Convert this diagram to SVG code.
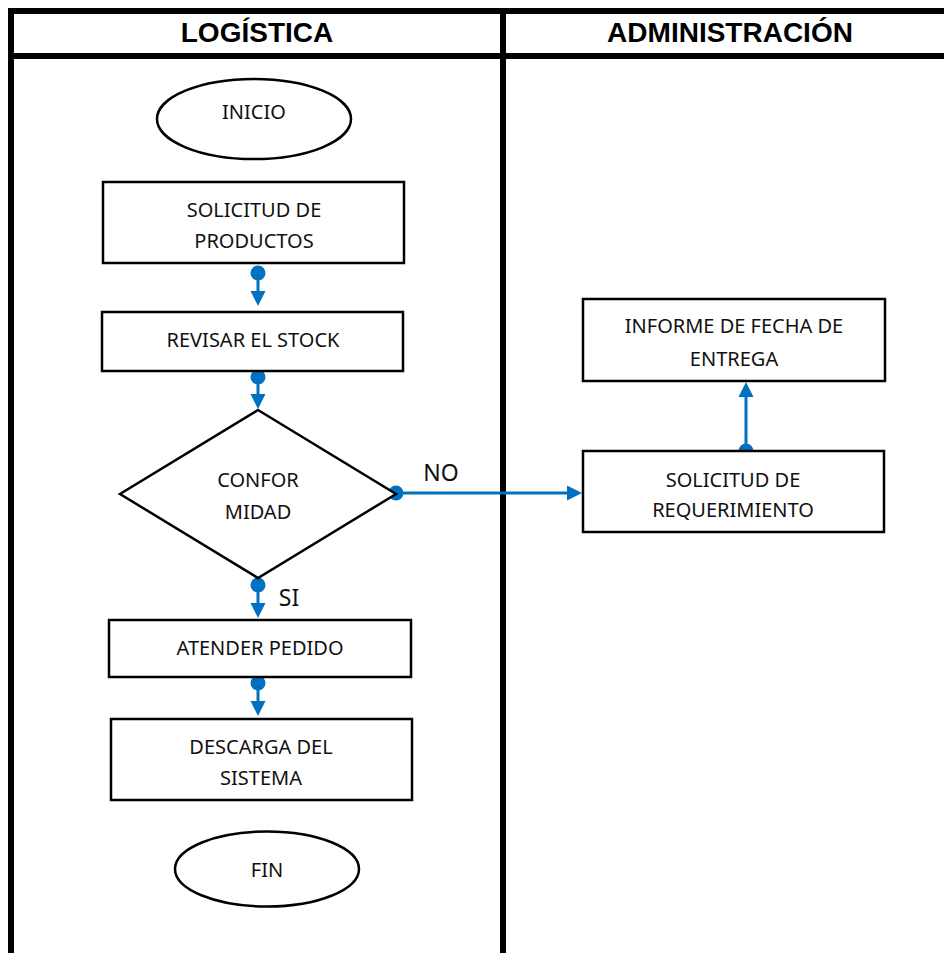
<svg xmlns="http://www.w3.org/2000/svg" width="944" height="953" viewBox="0 0 944 953">
  <style>
    .lane { stroke: #000; stroke-width: 6; fill: none; }
    .box { fill: #fff; stroke: #000; stroke-width: 2.5; }
    .lbl { font-family: "Noto Sans", "Open Sans", sans-serif; font-size: 20px; fill: #111; text-anchor: middle; }
    .tag { font-family: "Noto Sans", "Open Sans", sans-serif; font-size: 23px; fill: #111; text-anchor: middle; }
    .hdr { font-family: "Liberation Sans", Arial, sans-serif; font-size: 28px; font-weight: bold; fill: #000; text-anchor: middle; }
    .flow { stroke: #0070C0; stroke-width: 3; fill: none; }
    .dot { fill: #0070C0; }
    .head { fill: #0070C0; }
  </style>

  <rect width="944" height="953" fill="#fff"/>

  <!-- swimlane frame -->
  <g id="lanes">
    <line class="lane" x1="8" y1="11" x2="944" y2="11"/>
    <line class="lane" x1="8" y1="56" x2="944" y2="56"/>
    <line class="lane" x1="11" y1="8" x2="11" y2="953"/>
    <line class="lane" x1="503" y1="8" x2="503" y2="953"/>
    <text class="hdr" x="257" y="42">LOGÍSTICA</text>
    <text class="hdr" x="730" y="42">ADMINISTRACIÓN</text>
  </g>

  <!-- connectors -->
  <g id="connectors">
    <!-- solicitud -> revisar -->
    <line class="flow" x1="258" y1="273" x2="258" y2="293"/>
    <circle class="dot" cx="258" cy="273" r="7.5"/>
    <polygon class="head" points="250.5,291 265.5,291 258,306"/>
    <!-- revisar -> conformidad -->
    <line class="flow" x1="258" y1="377" x2="258" y2="396"/>
    <circle class="dot" cx="258" cy="377" r="7.5"/>
    <polygon class="head" points="250.5,394 265.5,394 258,409"/>
    <!-- conformidad NO -> solicitud de requerimiento -->
    <line class="flow" x1="396" y1="493" x2="569" y2="493"/>
    <circle class="dot" cx="396" cy="493" r="7.5"/>
    <polygon class="head" points="567,485.5 567,500.5 582,493"/>
    <text class="tag" x="441" y="481">NO</text>
    <!-- requerimiento -> informe -->
    <line class="flow" x1="746" y1="451" x2="746" y2="395"/>
    <circle class="dot" cx="746" cy="451" r="7.5"/>
    <polygon class="head" points="738.5,397 753.5,397 746,382"/>
    <!-- conformidad SI -> atender -->
    <line class="flow" x1="258" y1="585" x2="258" y2="605"/>
    <circle class="dot" cx="258" cy="585" r="7.5"/>
    <polygon class="head" points="250.5,603 265.5,603 258,618"/>
    <text class="tag" x="289" y="606" font-size="22">SI</text>
    <!-- atender -> descarga -->
    <line class="flow" x1="258" y1="683" x2="258" y2="703"/>
    <circle class="dot" cx="258" cy="683" r="7.5"/>
    <polygon class="head" points="250.5,701 265.5,701 258,716"/>
  </g>

  <g id="inicio">
    <ellipse class="box" cx="254" cy="119" rx="97" ry="40"/>
    <text class="lbl" x="254" y="119">INICIO</text>
  </g>

  <g id="solicitud-productos">
    <rect class="box" x="103" y="182" width="301" height="81"/>
    <text class="lbl" x="254" y="217">SOLICITUD DE</text>
    <text class="lbl" x="254" y="248">PRODUCTOS</text>
  </g>

  <g id="revisar-stock">
    <rect class="box" x="102" y="312" width="301" height="59"/>
    <text class="lbl" x="253" y="347">REVISAR EL STOCK</text>
  </g>

  <g id="conformidad">
    <polygon class="box" stroke-width="2" points="258,410 396,494 258,578 120,494"/>
    <text class="lbl" x="258" y="487">CONFOR</text>
    <text class="lbl" x="258" y="519">MIDAD</text>
  </g>

  <g id="solicitud-requerimiento">
    <rect class="box" x="583" y="451" width="301" height="81"/>
    <text class="lbl" x="733" y="487">SOLICITUD DE</text>
    <text class="lbl" x="733" y="517">REQUERIMIENTO</text>
  </g>

  <g id="informe-fecha">
    <rect class="box" x="583" y="299" width="302" height="82"/>
    <text class="lbl" x="734" y="333">INFORME DE FECHA DE</text>
    <text class="lbl" x="734" y="366">ENTREGA</text>
  </g>

  <g id="atender-pedido">
    <rect class="box" x="109" y="620" width="302" height="57"/>
    <text class="lbl" x="260" y="655">ATENDER PEDIDO</text>
  </g>

  <g id="descarga-sistema">
    <rect class="box" x="111" y="719" width="301" height="81"/>
    <text class="lbl" x="261" y="754">DESCARGA DEL</text>
    <text class="lbl" x="261" y="785">SISTEMA</text>
  </g>

  <g id="fin">
    <ellipse class="box" cx="267" cy="869" rx="92" ry="37.5"/>
    <text class="lbl" x="267" y="877">FIN</text>
  </g>
</svg>
